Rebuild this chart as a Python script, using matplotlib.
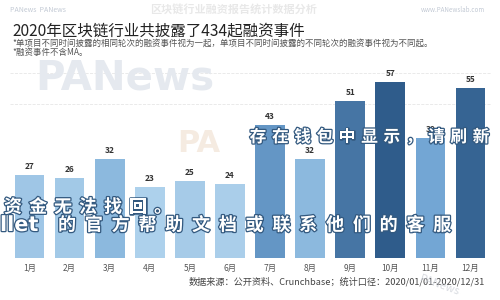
import matplotlib.pyplot as plt
import matplotlib.patheffects as pe
from matplotlib.colors import LinearSegmentedColormap, Normalize

plt.rcParams['font.family'] = ['Noto Sans CJK SC', 'DejaVu Sans']

months = ['1月', '2月', '3月', '4月', '5月', '6月', '7月', '8月', '9月', '10月', '11月', '12月']
events = [27, 26, 32, 23, 25, 24, 43, 32, 51, 57, 39, 55]

title = '2020年区块链行业共披露了434起融资事件'
note1 = '*单项目不同时间披露的相同轮次的融资事件视为一起，单项目不同时间披露的不同轮次的融资事件视为不同起。'
note2 = '*融资事件不含MA。'
source = '数据来源：公开资料、Crunchbase；统计口径：2020/01/01-2020/12/31'
overlay1 = '存在钱包中显示，请刷新'
overlay2 = '资金无法找回。'
overlay3 = '的官方帮助文档或联系他们的客服'

fig = plt.figure(figsize=(5, 3), dpi=100)
fig.patch.set_facecolor('white')

ax = fig.add_axes([0.019, 0.14, 0.962, 0.617])
cmap = LinearSegmentedColormap.from_list('b', ['#b8d9f0', '#6fa3d2', '#24507f'])
norm = Normalize(vmin=20, vmax=60)
x = range(len(months))
ax.bar(x, events, width=0.74, color=[cmap(norm(v)) for v in events], zorder=2)
for i, v in enumerate(events):
    ax.text(i, v + 1.3, str(v), ha='center', va='bottom', fontsize=6,
            color='#333333', fontweight='bold')
ax.set_xlim(-0.5, 11.5)
ax.set_ylim(0, 60)
for g in (50, 60):
    ax.axhline(g, color='#e6e6e6', lw=0.6, ls='--', zorder=0)
ax.set_xticks(list(x))
ax.set_xticklabels(months, fontsize=6, color='#555555')
ax.tick_params(length=0, pad=4)
ax.set_yticks([])
for s in ax.spines.values():
    s.set_visible(False)

# header / watermark
fig.text(0.02, 0.968, 'PANews  PANews', fontsize=5, color='#9aa6b8', alpha=0.6, va='center')
fig.text(0.97, 0.968, 'www.PANewslab.com', fontsize=4.5, color='#9aa6b8', alpha=0.6,
         va='center', ha='right')
fig.text(0.3, 0.968, '区块链行业融资报告统计数据分析', fontsize=8, color='#e8e8e8',
         va='center', fontweight='bold')
fig.text(0.024, 0.898, title, fontsize=11.2, color='#222222', va='center')
fig.text(0.024, 0.857, note1, fontsize=6.1, color='#555555', va='center')
fig.text(0.024, 0.825, note2, fontsize=6.1, color='#555555', va='center')
fig.text(0.07, 0.74, 'PANews', fontsize=29, color='#e5e9ef', va='center',
         fontweight='bold', family='DejaVu Sans', zorder=0)
fig.text(0.355, 0.52, 'PA', fontsize=22, color='#f3e6da', va='center',
         fontweight='bold', family='DejaVu Sans', alpha=0.8)
fig.text(0.97, 0.06, source, fontsize=6.6, color='#444444', ha='right', va='center')
fig.text(0.88, 0.05, 'PANews', fontsize=8, color='#c8ccd4', rotation=-20,
         ha='center', va='center', style='italic', alpha=0.7)

# overlaid page text, one glyph at a time (pixel positions)
fx = [pe.withStroke(linewidth=1.8, foreground='#33597f')]


def spaced(txt, x0, y0, step, size=13):
    for k, ch in enumerate(txt):
        fig.text((x0 + k * step) / 500, 1 - y0 / 300, ch, fontsize=size, color='white',
                 ha='center', va='center', fontweight='bold', path_effects=fx)


spaced(overlay1, 258, 137, 22.3, 12)
spaced(overlay2, 13, 207, 25)
fig.text(0.0, 1 - 225 / 300, 'llet', fontsize=15, color='white', ha='left',
         va='center', fontweight='bold', family='DejaVu Sans', path_effects=fx)
spaced(overlay3, 67, 225, 26.8)

fig.savefig('out.png', dpi=100)
